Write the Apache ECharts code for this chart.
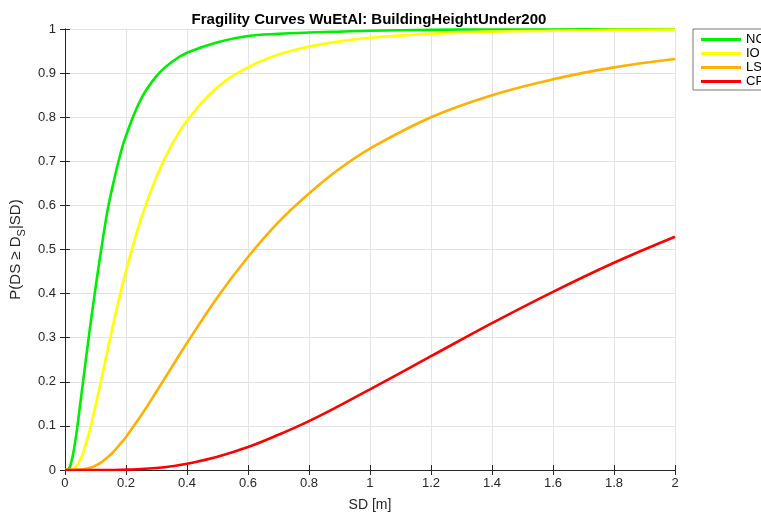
<!DOCTYPE html>
<html>
<head>
<meta charset="utf-8">
<script src="https://cdn.jsdelivr.net/npm/echarts@6/dist/echarts.min.js"></script>
<style>html,body{margin:0;padding:0;background:#fff;}#c{width:761px;height:517px;}</style>
</head>
<body>
<div id="c"></div>
<script>
var sd = [0, 0.01, 0.02, 0.03, 0.04, 0.05, 0.06, 0.08, 0.1, 0.12, 0.14, 0.16, 0.18, 0.2, 0.25, 0.3, 0.35, 0.4, 0.5, 0.6, 0.7, 0.8, 0.9, 1.0, 1.2, 1.4, 1.6, 1.8, 2.0];
var NC = [0, 0.001, 0.016, 0.049, 0.095, 0.15, 0.204, 0.312, 0.412, 0.505, 0.59, 0.655, 0.712, 0.758, 0.842, 0.893, 0.925, 0.946, 0.970, 0.984, 0.989, 0.992, 0.994, 0.996, 0.998, 0.999, 0.999, 1.0, 1.0];
var IO = [0, 0, 0.001, 0.004, 0.011, 0.023, 0.040, 0.087, 0.145, 0.208, 0.273, 0.336, 0.396, 0.451, 0.571, 0.665, 0.737, 0.792, 0.868, 0.913, 0.942, 0.960, 0.972, 0.980, 0.989, 0.994, 0.996, 0.998, 0.999];
var LS = [0, 0, 0, 0, 0.0002, 0.0007, 0.0015, 0.0045, 0.010, 0.018, 0.029, 0.042, 0.058, 0.075, 0.124, 0.178, 0.233, 0.288, 0.392, 0.483, 0.562, 0.627, 0.683, 0.729, 0.800, 0.850, 0.886, 0.913, 0.932];
var CP = [0, 0, 0, 0, 0, 0, 0, 0, 0, 0, 0, 0, 0.0002, 0.0008, 0.0021, 0.0046, 0.0085, 0.014, 0.030, 0.052, 0.080, 0.111, 0.146, 0.183, 0.258, 0.333, 0.404, 0.470, 0.529];
var seriesNames = ['NC', 'IO', 'LS', 'CP'];
var seriesColors = ['#00ee00', '#ffff00', '#ffb000', '#ff0000'];
var seriesData = [NC, IO, LS, CP];

function pairs(ys) { return sd.map(function (x, i) { return [x, ys[i]]; }); }

var font = 'Liberation Sans, Arial, Helvetica, sans-serif';
var axisCol = '#262626';
var chart = echarts.init(document.getElementById('c'), null, { renderer: 'canvas' });
var commonAxis = {
  axisLine: { show: true, lineStyle: { color: axisCol, width: 1 } },
  axisTick: { show: true, inside: true, length: 5, lineStyle: { color: axisCol } },
  splitLine: { show: false }
};
chart.setOption({
  animation: false,
  backgroundColor: '#fff',
  title: {
    text: 'Fragility Curves WuEtAl: BuildingHeightUnder200',
    left: 364, top: 7, textAlign: 'center',
    textStyle: { fontFamily: font, fontSize: 15, fontWeight: 'bold', color: '#000' }
  },
  legend: {
    left: 693, top: 29, orient: 'vertical',
    icon: 'rect',
    itemWidth: 40, itemHeight: 3, itemGap: 1,
    padding: [4, 6, 2, 8],
    backgroundColor: '#fff', borderColor: '#777', borderWidth: 1, borderRadius: 0,
    textStyle: { fontFamily: font, fontSize: 13, color: '#000', lineHeight: 13 },
    data: seriesNames
  },
  grid: { left: 64, right: 86, top: 29, bottom: 38, containLabel: false },
  xAxis: [
    Object.assign({}, commonAxis, {
      type: 'value', min: 0, max: 2, interval: 0.2, position: 'bottom',
      name: 'SD [m]', nameLocation: 'middle', nameGap: 28,
      nameTextStyle: { fontFamily: font, fontSize: 14, color: axisCol },
      axisLabel: { fontFamily: font, fontSize: 13, color: axisCol, margin: 7 },
      splitLine: { show: true, lineStyle: { color: '#e3e3e3', width: 1 } }
    }),
    Object.assign({}, commonAxis, {
      type: 'value', min: 0, max: 2, interval: 0.2, position: 'top',
      axisLabel: { show: false }
    })
  ],
  yAxis: [
    Object.assign({}, commonAxis, {
      type: 'value', min: 0, max: 1, interval: 0.1, position: 'left',
      name: '{a|P(DS ≥ D}{s|S}{a||SD)}', nameLocation: 'middle', nameGap: 27, nameRotate: 90,
      nameTextStyle: {
        fontFamily: font, fontSize: 15, color: axisCol,
        rich: {
          a: { fontFamily: font, fontSize: 15, color: axisCol, lineHeight: 18, verticalAlign: 'bottom' },
          s: { fontFamily: font, fontSize: 11, color: axisCol, lineHeight: 18, verticalAlign: 'bottom', padding: [0, 0, -4, 0] }
        }
      },
      axisLabel: { fontFamily: font, fontSize: 13, color: axisCol, margin: 9 },
      splitLine: { show: true, lineStyle: { color: '#e3e3e3', width: 1 } }
    }),
    Object.assign({}, commonAxis, {
      type: 'value', min: 0, max: 1, interval: 0.1, position: 'right',
      axisLabel: { show: false }
    })
  ],
  series: seriesNames.map(function (n, i) {
    return {
      name: n, type: 'line', data: pairs(seriesData[i]),
      xAxisIndex: 0, yAxisIndex: 0,
      symbol: 'none', smooth: 0.4, clip: true,
      lineStyle: { color: seriesColors[i], width: 2.6 },
      itemStyle: { color: seriesColors[i] },
      z: 3 + i
    };
  })
});
</script>
</body>
</html>
